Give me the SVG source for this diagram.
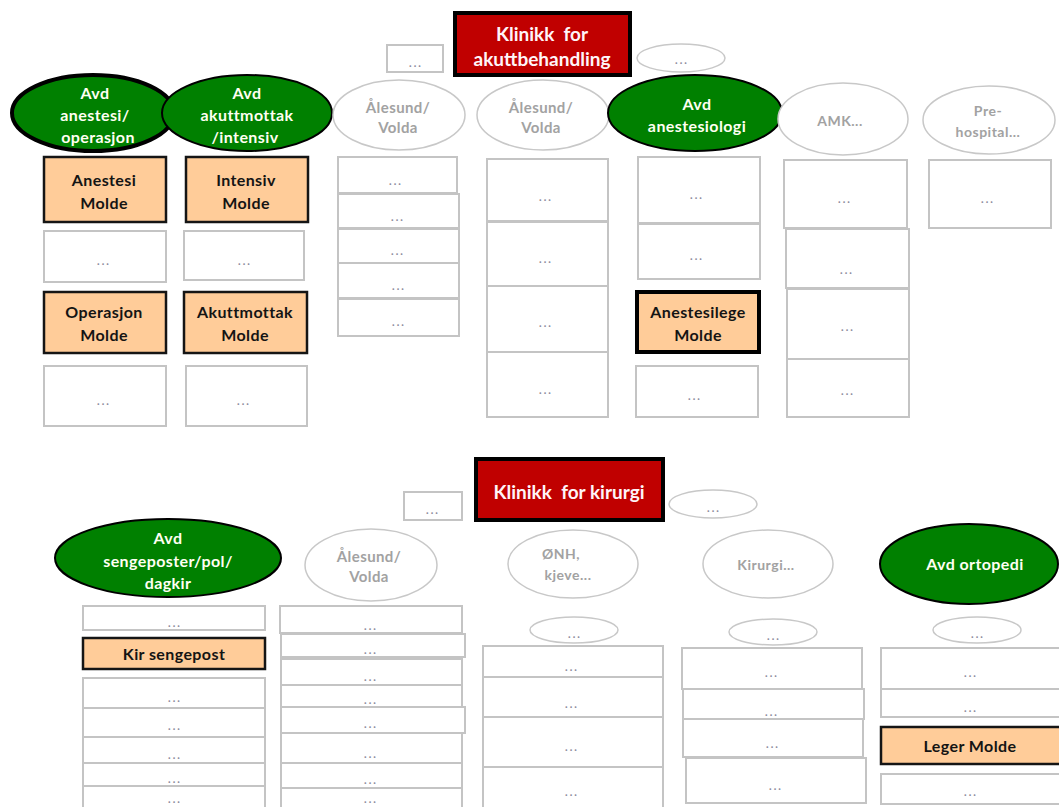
<svg xmlns="http://www.w3.org/2000/svg" width="1059" height="807" viewBox="0 0 1059 807">
<style>
.bx{fill:#fff;stroke:#c4c4c4;stroke-width:2}
.ob{fill:#FFCC99;stroke:#151515;stroke-width:2.5}
.ob4{fill:#FFCC99;stroke:#000;stroke-width:4}
.ge{fill:#008000;stroke:#000;stroke-width:2}
.ge4{fill:#008000;stroke:#000;stroke-width:4}
.we{fill:#fff;stroke:#c8c8c8;stroke-width:1.5}
.tb{fill:#C00000;stroke:#000;stroke-width:4}
text{font-family:Lato,"Liberation Sans",sans-serif;text-anchor:middle;dominant-baseline:central}
.d{font-size:11px;fill:#8a8a9a;letter-spacing:2px;font-weight:bold;dominant-baseline:alphabetic}
.w{font-size:16px;font-weight:bold;fill:#fffff2;letter-spacing:0.4px}
.k{font-size:16px;font-weight:bold;fill:#141414;letter-spacing:0.4px}
.g{font-size:15px;font-weight:bold;fill:#a2a2a2;letter-spacing:0.4px}
.gs{font-size:14px;font-weight:bold;fill:#a2a2a2;letter-spacing:0.5px}
.t{font-size:19px;font-weight:bold;fill:#fff4f8;white-space:pre}
</style>
<g id="connectors"></g>

<!-- Top section -->
<g id="klinikk-akutt"><rect class="tb" x="455" y="13" width="175" height="62"/><text class="t" x="542" y="33" xml:space="preserve">Klinikk  for</text><text class="t" x="542" y="58">akuttbehandling</text></g>
<g id="top-rect-dots"><rect class="bx" x="387" y="45" width="56" height="27"/><text class="d" x="416" y="67">...</text></g>
<g id="top-ell-dots"><ellipse class="we" cx="681" cy="58" rx="44" ry="14"/><text class="d" x="682" y="64">...</text></g>

<g id="avd-anestesi-operasjon"><ellipse class="ge4" cx="93" cy="113" rx="81" ry="38"/><text class="w" x="95" y="92">Avd</text><text class="w" x="95" y="114">anestesi/</text><text class="w" x="98" y="136">operasjon</text></g>
<g id="avd-akuttmottak"><ellipse class="ge" cx="247" cy="113" rx="85" ry="38"/><text class="w" x="247" y="92">Avd</text><text class="w" x="247" y="114">akuttmottak</text><text class="w" x="245" y="136">/intensiv</text></g>
<g id="alesund-volda-1"><ellipse class="we" cx="399" cy="115" rx="66" ry="35"/><text class="g" x="398" y="107">Ålesund/</text><text class="g" x="398" y="127">Volda</text></g>
<g id="alesund-volda-2"><ellipse class="we" cx="543" cy="115" rx="66" ry="35"/><text class="g" x="541" y="107">Ålesund/</text><text class="g" x="541" y="127">Volda</text></g>
<g id="avd-anestesiologi"><ellipse class="ge" cx="695" cy="113" rx="87" ry="38"/><text class="w" x="697" y="103">Avd</text><text class="w" x="697" y="125">anestesiologi</text></g>
<g id="amk"><ellipse class="we" cx="843" cy="119" rx="65" ry="36"/><text class="gs" x="840" y="120">AMK...</text></g>
<g id="pre-hospital"><ellipse class="we" cx="989" cy="120" rx="66" ry="34"/><text class="gs" x="988" y="110">Pre-</text><text class="gs" x="988" y="131">hospital...</text></g>

<!-- column 1 -->
<g id="anestesi-molde"><rect class="ob" x="44" y="157" width="122" height="65"/><text class="k" x="104" y="179">Anestesi</text><text class="k" x="104" y="202">Molde</text></g>
<g id="c1-b1"><rect class="bx" x="44" y="231" width="122" height="51"/><text class="d" x="104" y="265">...</text></g>
<g id="operasjon-molde"><rect class="ob" x="44" y="292" width="122" height="61"/><text class="k" x="104" y="311">Operasjon</text><text class="k" x="104" y="334">Molde</text></g>
<g id="c1-b2"><rect class="bx" x="44" y="366" width="122" height="60"/><text class="d" x="104" y="405">...</text></g>

<!-- column 2 -->
<g id="intensiv-molde"><rect class="ob" x="186" y="157" width="122" height="65"/><text class="k" x="246" y="179">Intensiv</text><text class="k" x="246" y="202">Molde</text></g>
<g id="c2-b1"><rect class="bx" x="184" y="231" width="120" height="49"/><text class="d" x="245" y="265">...</text></g>
<g id="akuttmottak-molde"><rect class="ob" x="184" y="292" width="123" height="61"/><text class="k" x="245" y="311">Akuttmottak</text><text class="k" x="245" y="334">Molde</text></g>
<g id="c2-b2"><rect class="bx" x="186" y="366" width="121" height="60"/><text class="d" x="244" y="405">...</text></g>

<!-- column 3 -->
<g id="c3-b1"><rect class="bx" x="338" y="157" width="119" height="36"/><text class="d" x="396" y="185">...</text></g>
<g id="c3-b2"><rect class="bx" x="338" y="194" width="121" height="34"/><text class="d" x="398" y="221">...</text></g>
<g id="c3-b3"><rect class="bx" x="338" y="229" width="121" height="34"/><text class="d" x="398" y="255">...</text></g>
<g id="c3-b4"><rect class="bx" x="338" y="263" width="121" height="35"/><text class="d" x="399" y="290">...</text></g>
<g id="c3-b5"><rect class="bx" x="338" y="299" width="121" height="37"/><text class="d" x="399" y="326">...</text></g>

<!-- column 4 -->
<g id="c4-b1"><rect class="bx" x="487" y="159" width="121" height="62"/><text class="d" x="546" y="201">...</text></g>
<g id="c4-b2"><rect class="bx" x="487" y="222" width="121" height="64"/><text class="d" x="546" y="263">...</text></g>
<g id="c4-b3"><rect class="bx" x="487" y="286" width="121" height="66"/><text class="d" x="546" y="327">...</text></g>
<g id="c4-b4"><rect class="bx" x="487" y="352" width="121" height="65"/><text class="d" x="546" y="394">...</text></g>

<!-- column 5 -->
<g id="c5-b1"><rect class="bx" x="638" y="157" width="122" height="66"/><text class="d" x="697" y="199">...</text></g>
<g id="c5-b2"><rect class="bx" x="638" y="224" width="122" height="55"/><text class="d" x="697" y="260">...</text></g>
<g id="anestesilege-molde"><rect class="ob4" x="637" y="292" width="122" height="60"/><text class="k" x="698" y="311">Anestesilege</text><text class="k" x="698" y="334">Molde</text></g>
<g id="c5-b3"><rect class="bx" x="636" y="366" width="122" height="51"/><text class="d" x="695" y="400">...</text></g>

<!-- column 6 -->
<g id="c6-b1"><rect class="bx" x="784" y="160" width="123" height="68"/><text class="d" x="845" y="203">...</text></g>
<g id="c6-b2"><rect class="bx" x="786" y="229" width="123" height="59"/><text class="d" x="847" y="274">...</text></g>
<g id="c6-b3"><rect class="bx" x="787" y="289" width="122" height="70"/><text class="d" x="848" y="331">...</text></g>
<g id="c6-b4"><rect class="bx" x="787" y="359" width="122" height="58"/><text class="d" x="848" y="395">...</text></g>

<!-- column 7 -->
<g id="c7-b1"><rect class="bx" x="929" y="160" width="122" height="68"/><text class="d" x="988" y="203">...</text></g>

<!-- Bottom section -->
<g id="klinikk-kirurgi"><rect class="tb" x="476" y="459" width="187" height="61"/><text class="t" x="569" y="491" xml:space="preserve">Klinikk  for kirurgi</text></g>
<g id="bot-rect-dots"><rect class="bx" x="404" y="492" width="58" height="28"/><text class="d" x="433" y="514">...</text></g>
<g id="bot-ell-dots"><ellipse class="we" cx="713" cy="504" rx="44" ry="14"/><text class="d" x="714" y="512">...</text></g>

<g id="avd-sengeposter"><ellipse class="ge" cx="168" cy="558" rx="113" ry="39"/><text class="w" x="168" y="537">Avd</text><text class="w" x="168" y="560">sengeposter/pol/</text><text class="w" x="168" y="582">dagkir</text></g>
<g id="alesund-volda-3"><ellipse class="we" cx="371" cy="565" rx="66" ry="36"/><text class="g" x="369" y="556">Ålesund/</text><text class="g" x="369" y="576">Volda</text></g>
<g id="onh-kjeve"><ellipse class="we" cx="573" cy="564" rx="65" ry="34"/><text class="gs" x="561" y="553">ØNH,</text><text class="gs" x="568" y="574">kjeve...</text></g>
<g id="kirurgi"><ellipse class="we" cx="768" cy="564" rx="65" ry="34"/><text class="gs" x="766" y="564">Kirurgi...</text></g>
<g id="avd-ortopedi"><ellipse class="ge" cx="969" cy="564" rx="89" ry="40"/><text class="w" x="975" y="563">Avd ortopedi</text></g>

<g id="onh-ell-dots"><ellipse class="we" cx="574" cy="630" rx="44" ry="13"/><text class="d" x="575" y="638">...</text></g>
<g id="kir-ell-dots"><ellipse class="we" cx="773" cy="632" rx="44" ry="13"/><text class="d" x="774" y="640">...</text></g>
<g id="ort-ell-dots"><ellipse class="we" cx="977" cy="630" rx="44" ry="13"/><text class="d" x="978" y="638">...</text></g>

<!-- column A -->
<g id="a-b1"><rect class="bx" x="83" y="606" width="182" height="24"/><text class="d" x="175" y="627">...</text></g>
<g id="kir-sengepost"><rect class="ob" x="83" y="638" width="182" height="31"/><text class="k" x="174" y="653">Kir sengepost</text></g>
<g id="a-b2"><rect class="bx" x="83" y="678" width="182" height="30"/><text class="d" x="175" y="702">...</text></g>
<g id="a-b3"><rect class="bx" x="83" y="708" width="182" height="29"/><text class="d" x="175" y="730">...</text></g>
<g id="a-b4"><rect class="bx" x="83" y="737" width="182" height="26"/><text class="d" x="175" y="759">...</text></g>
<g id="a-b5"><rect class="bx" x="83" y="763" width="182" height="23"/><text class="d" x="175" y="783">...</text></g>
<g id="a-b6"><rect class="bx" x="83" y="786" width="182" height="30"/><text class="d" x="175" y="803">...</text></g>

<!-- column B -->
<g id="b-b1"><rect class="bx" x="280" y="606" width="182" height="27"/><text class="d" x="371" y="630">...</text></g>
<g id="b-b2"><rect class="bx" x="281" y="634" width="184" height="23"/><text class="d" x="371" y="654">...</text></g>
<g id="b-b3"><rect class="bx" x="281" y="659" width="181" height="26"/><text class="d" x="371" y="681">...</text></g>
<g id="b-b4"><rect class="bx" x="281" y="685" width="181" height="22"/><text class="d" x="371" y="704">...</text></g>
<g id="b-b5"><rect class="bx" x="281" y="707" width="184" height="26"/><text class="d" x="371" y="728">...</text></g>
<g id="b-b6"><rect class="bx" x="281" y="733" width="181" height="30"/><text class="d" x="371" y="758">...</text></g>
<g id="b-b7"><rect class="bx" x="281" y="763" width="181" height="25"/><text class="d" x="371" y="784">...</text></g>
<g id="b-b8"><rect class="bx" x="281" y="788" width="181" height="30"/><text class="d" x="371" y="803">...</text></g>

<!-- column C -->
<g id="c-b1"><rect class="bx" x="483" y="646" width="180" height="31"/><text class="d" x="572" y="671">...</text></g>
<g id="c-b2"><rect class="bx" x="483" y="677" width="180" height="40"/><text class="d" x="572" y="708">...</text></g>
<g id="c-b3"><rect class="bx" x="483" y="717" width="180" height="50"/><text class="d" x="572" y="751">...</text></g>
<g id="c-b4"><rect class="bx" x="483" y="767" width="180" height="50"/><text class="d" x="572" y="796">...</text></g>

<!-- column D -->
<g id="d-b1"><rect class="bx" x="682" y="648" width="180" height="41"/><text class="d" x="772" y="677">...</text></g>
<g id="d-b2"><rect class="bx" x="683" y="689" width="181" height="30"/><text class="d" x="772" y="716">...</text></g>
<g id="d-b3"><rect class="bx" x="683" y="719" width="180" height="38"/><text class="d" x="773" y="748">...</text></g>
<g id="d-b4"><rect class="bx" x="686" y="758" width="180" height="45"/><text class="d" x="776" y="790">...</text></g>

<!-- column E -->
<g id="e-b1"><rect class="bx" x="881" y="648" width="182" height="41"/><text class="d" x="971" y="677">...</text></g>
<g id="e-b2"><rect class="bx" x="881" y="689" width="182" height="28"/><text class="d" x="971" y="712">...</text></g>
<g id="leger-molde"><rect class="ob" x="881" y="727" width="182" height="37"/><text class="k" x="970" y="745">Leger Molde</text></g>
<g id="e-b3"><rect class="bx" x="881" y="774" width="182" height="30"/><text class="d" x="971" y="796">...</text></g>
</svg>
